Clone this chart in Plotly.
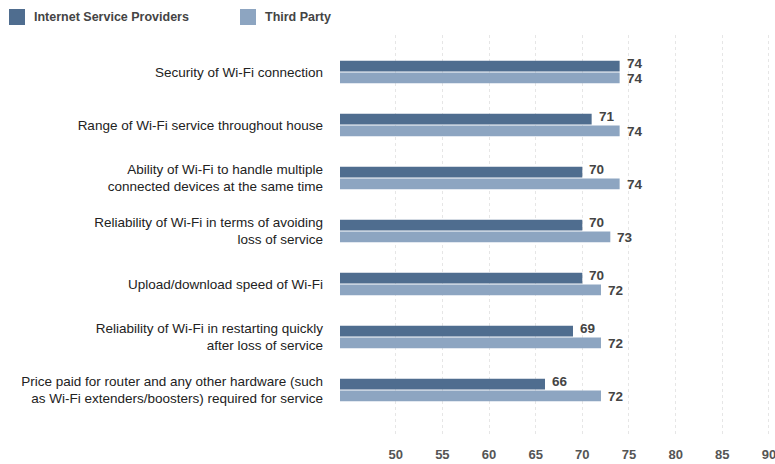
import plotly.graph_objects as go

categories = [
    "Security of Wi-Fi connection",
    "Range of Wi-Fi service throughout house",
    "Ability of Wi-Fi to handle multiple<br>connected devices at the same time",
    "Reliability of Wi-Fi in terms of avoiding<br>loss of service",
    "Upload/download speed of Wi-Fi",
    "Reliability of Wi-Fi in restarting quickly<br>after loss of service",
    "Price paid for router and any other hardware (such<br>as Wi-Fi extenders/boosters) required for service",
]
isp_values = [74, 71, 70, 70, 70, 69, 66]
third_party_values = [74, 74, 74, 73, 72, 72, 72]
series_names = ["Internet Service Providers", "Third Party"]
tick_values = [50, 55, 60, 65, 70, 75, 80, 85, 90]

DARK = "#4f6d8f"
LIGHT = "#8da5c1"
W, H = 775, 464
L, R, T, B = 340, 0, 35, 27

fig = go.Figure()
for name, vals, col in [(series_names[0], isp_values, DARK), (series_names[1], third_party_values, LIGHT)]:
    fig.add_trace(go.Bar(
        y=categories, x=vals, name=name, orientation="h",
        marker=dict(color=col, line=dict(width=0)),
        showlegend=False, hoverinfo="x+name",
    ))

# value labels next to bar ends
for vals, yshift in [(isp_values, 8), (third_party_values, -7)]:
    for cat, v in zip(categories, vals):
        fig.add_annotation(x=v, y=cat, xref="x", yref="y", text=f"{v}",
                           showarrow=False, xanchor="left", yanchor="middle",
                           xshift=5, yshift=yshift,
                           font=dict(family="Liberation Sans", size=13.5, color="#444444", weight="bold"))

fig.update_layout(
    width=W, height=H,
    margin=dict(l=L, r=R, t=T, b=B, pad=0),
    barmode="group", bargap=0.56, bargroupgap=0.08,
    plot_bgcolor="white", paper_bgcolor="white",
    font=dict(family="Liberation Sans", color="#222222"),
    showlegend=False,
)
fig.update_xaxes(
    range=[44.03, 90.65], tickvals=tick_values, showgrid=True,
    gridcolor="#e6e6e6", griddash="dot", gridwidth=1, zeroline=False,
    showline=False, ticks="", automargin=False, ticklabeloverflow="allow",
    tickfont=dict(family="Liberation Sans", size=13, color="#555555", weight="bold"),
    ticklabelstandoff=8,
)
fig.update_yaxes(
    categoryorder="array", categoryarray=categories,
    range=[6.887, -0.698], showgrid=False, zeroline=False, showline=False,
    ticks="", automargin=False, ticklabelstandoff=16,
    tickfont=dict(family="Liberation Sans", size=13.5, color="#222222"),
)

# custom legend (pixel positions converted to paper coords)
def px_x(px):
    return (px - L) / (W - L - R)

def px_y(py):
    return 1 - (py - T) / (H - T - B)

legend_items = [(9, 32, DARK, series_names[0]), (240, 263, LIGHT, series_names[1])]
for sx, tx, col, label in legend_items:
    fig.add_shape(type="rect", xref="paper", yref="paper",
                  x0=px_x(sx), x1=px_x(sx + 16), y0=px_y(9), y1=px_y(25),
                  fillcolor=col, line=dict(width=0))
    fig.add_annotation(xref="paper", yref="paper", x=px_x(tx), y=px_y(17),
                       text=label, showarrow=False, xanchor="left", yanchor="middle",
                       font=dict(family="Liberation Sans", size=12.5, color="#444444", weight="bold"))

fig.write_html("out.html")
